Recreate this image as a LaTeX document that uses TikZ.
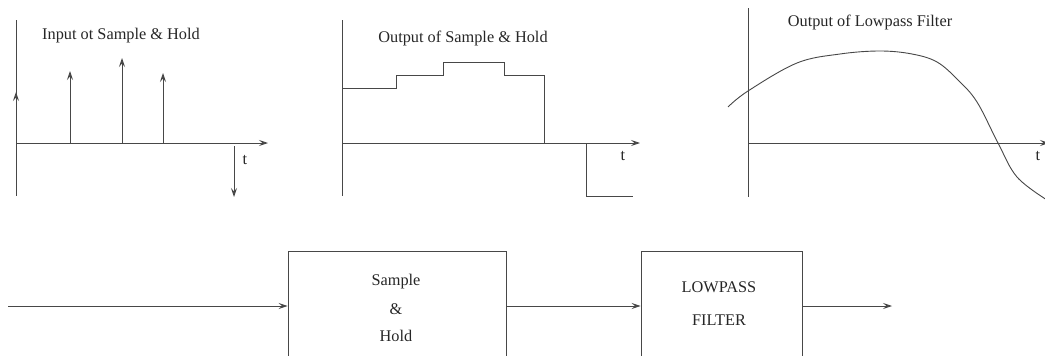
\documentclass[tikz,border=0pt]{standalone}
\usepackage{fontspec}
\setmainfont{Liberation Serif}
\usetikzlibrary{arrows.meta}
\begin{document}
\begin{tikzpicture}[x=1pt,y=-1pt,color=black!72,line width=0.9pt,
  arr/.style={-{Stealth[length=9pt,width=6pt,inset=3.5pt]}},
  lbl/.style={font=\fontsize{16.3}{19}\selectfont,text=black!85,inner sep=0pt},
  blk/.style={draw,rectangle,minimum height=110pt,inner sep=0pt}]
\useasboundingbox (0,0) rectangle (1045,356);
\clip (0,0) rectangle (1045,356);
% ---------- panel 1
\coordinate (o1) at (16,143);
\coordinate (y1t) at (16,20);
\coordinate (y1b) at (16,196);
\draw (y1t) -- (y1b);
\coordinate (x1e) at (268,143);
\draw[arr] (o1) -- (x1e);
\coordinate (i0) at (16,92);
\draw[arr] (o1) -- (i0);
\coordinate (a1) at (70,143); \coordinate (a1t) at (70,71);
\coordinate (a2) at (122,143); \coordinate (a2t) at (122,58);
\coordinate (a3) at (163,143); \coordinate (a3t) at (163,73);
\draw[arr] (a1) -- (a1t);
\draw[arr] (a2) -- (a2t);
\draw[arr] (a3) -- (a3t);
\coordinate (d1) at (234,146); \coordinate (d1t) at (234,197);
\draw[arr] (d1) -- (d1t);
\node[lbl] (t1) at (245,160) {t};
\node[lbl] (title1) at (121,36) {Input ot Sample \& Hold};
% ---------- panel 2
\coordinate (o2) at (342,143);
\coordinate (y2t) at (342,20);
\coordinate (y2b) at (342,196);
\draw (y2t) -- (y2b);
\coordinate (x2e) at (640,143);
\draw[arr] (o2) -- (x2e);
\draw (342,88) -- (396,88) -- (396,75) -- (443,75) -- (443,62) -- (504,62)
      -- (504,75) -- (544,75) -- (544,143);
\draw (586,143) -- (586,196) -- (633,196);
\node[lbl] (t2) at (623,156) {t};
\node[lbl] (title2) at (463,38) {Output of Sample \& Hold};
% ---------- panel 3
\coordinate (o3) at (748,143);
\coordinate (y3t) at (748,8);
\coordinate (y3b) at (748,197);
\draw (y3t) -- (y3b);
\coordinate (x3e) at (1049,143);
\draw[arr] (o3) -- (x3e);
\draw plot[smooth,tension=0.6] coordinates {(728,107) (748,91) (797,63) (840,54) (880,51)
  (912,54) (937,62) (958,80) (977,102) (998,143) (1017,177) (1047,200)};
\node[lbl] (t3) at (1038,156) {t};
\node[lbl] (title3) at (870,22) {Output of Lowpass Filter};
% ---------- block diagram
\coordinate (in) at (8,306);
\node[blk,minimum width=218pt] (sh) at (397,306) {};
\node[blk,minimum width=161pt] (lp) at (721.5,306) {};
\coordinate (out) at (892,306);
\draw[arr] (in) -- (sh.west);
\draw[arr] (sh.east) -- (lp.west);
\draw[arr] (lp.east) -- (out);
\node[lbl] (s1) at (396,282) {Sample};
\node[lbl] (s2) at (396,309) {\&};
\node[lbl] (s3) at (396,336) {Hold};
\node[lbl] (l1) at (719,287) {LOWPASS};
\node[lbl] (l2) at (719,320) {FILTER};
\end{tikzpicture}
\end{document}
